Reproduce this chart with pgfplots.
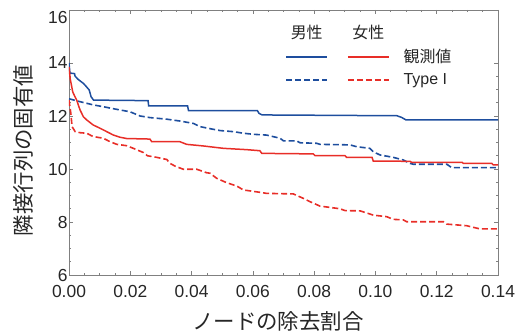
\documentclass[border=0pt]{standalone}
\usepackage{pgfplots}
\pgfplotsset{compat=1.18}
\usepackage{fontspec}
\setmainfont{Liberation Sans}
\newfontfamily\jp{Noto Sans CJK JP}
\definecolor{mblue}{RGB}{30,78,158}
\definecolor{fred}{RGB}{232,46,40}
\definecolor{axgray}{RGB}{128,128,128}
\begin{document}
\begin{tikzpicture}
\begin{axis}[
  at={(0,0)}, anchor=south west,
  scale only axis, width=429bp, height=265bp,
  xmin=0, xmax=0.14, ymin=6, ymax=16,
  xtick={0,0.02,0.04,0.06,0.08,0.1,0.12,0.14},
  ytick={6,8,10,12,14},
  extra y ticks={16},
  extra y tick style={yticklabel style={yshift=-8bp}},
  minor x tick num=3, minor y tick num=3,
  major tick length=4bp, minor tick length=2.5bp,
  every tick/.style={axgray, line width=0.6bp},
  axis line style={axgray, line width=0.8bp},
  /pgf/number format/assume math mode=true,
  xticklabel style={/pgf/number format/.cd, fixed, fixed zerofill, precision=2, /tikz/.cd, yshift=-7bp},
  yticklabel style={xshift=2bp},
  tick label style={font=\fontsize{17.5}{20}\selectfont, text=black!85},
  xlabel={\jp ノードの除去割合},
  ylabel={\jp 隣接行列の固有値},
  xlabel style={at={(axis description cs:0.487,-0.177)}, anchor=center, font=\fontsize{21.5}{24}\selectfont, text=black!85},
  ylabel style={at={(axis description cs:-0.107,0.47)}, anchor=center, font=\fontsize{21.5}{24}\selectfont, text=black!85},
  legend columns=3,
  legend style={at={(axis description cs:0.497,0.951)}, anchor=north west, draw=none, fill=none,
    font=\fontsize{16}{19}\selectfont, text=black!85, column sep=0pt, row sep=9.5bp, nodes={inner sep=0pt},
    /tikz/every even column/.append style={column sep=18bp}},
  legend cell align=left,
]
% Male observed
\addplot[mblue, line width=1.5bp, forget plot] coordinates {
(0,14.0) (0.0003,13.62) (0.0018,13.6) (0.002,13.5) (0.003,13.38) (0.0047,13.23) (0.0055,13.13)
(0.0066,12.98) (0.0072,12.73) (0.008,12.6) (0.0258,12.58) (0.026,12.38) (0.0387,12.38) (0.039,12.20)
(0.0615,12.20) (0.062,12.10) (0.063,12.04) (0.107,12.01) (0.1085,11.95) (0.110,11.85) (0.14,11.85)
};
% Male Type I
\addplot[mblue, line width=1.6bp, dash pattern=on 6bp off 3bp, forget plot] coordinates {
(0,12.65) (0.0036,12.54) (0.0079,12.42) (0.0112,12.35) (0.0156,12.25) (0.0199,12.16) (0.0232,12.00)
(0.0264,11.94) (0.0319,11.88) (0.0362,11.81) (0.0406,11.72) (0.0427,11.60) (0.047,11.50) (0.0493,11.45)
(0.0536,11.41) (0.0569,11.35) (0.0601,11.31) (0.0645,11.28) (0.0689,11.16) (0.070,11.06) (0.0743,11.06)
(0.0754,10.99) (0.0808,10.97) (0.0819,10.93) (0.0917,10.91) (0.0939,10.84) (0.0982,10.78) (0.0993,10.65)
(0.1015,10.53) (0.1058,10.44) (0.1091,10.34) (0.1113,10.21) (0.1124,10.18) (0.1233,10.18) (0.1249,10.05)
(0.14,10.05)
};
% Female observed
\addplot[fred, line width=1.5bp, forget plot] coordinates {
(0,13.85) (0.0004,13.4) (0.0012,12.92) (0.0014,12.86) (0.0025,12.60) (0.0036,12.23) (0.0047,11.97)
(0.0058,11.85) (0.0079,11.66) (0.0101,11.54) (0.0123,11.41) (0.0145,11.28) (0.0166,11.20) (0.0188,11.15)
(0.0264,11.13) (0.027,11.03) (0.0362,11.03) (0.0384,10.93) (0.0438,10.87) (0.0504,10.78) (0.058,10.73)
(0.0623,10.69) (0.0629,10.59) (0.0797,10.57) (0.0803,10.50) (0.0901,10.50) (0.0906,10.44) (0.0989,10.44)
(0.0993,10.30) (0.1113,10.29) (0.1118,10.25) (0.1283,10.25) (0.1287,10.21) (0.138,10.21) (0.1384,10.16)
(0.14,10.16)
};
% Female Type I
\addplot[fred, line width=1.6bp, dash pattern=on 6bp off 3bp, forget plot] coordinates {
(0,12.6) (0.0006,12.10) (0.001,11.6) (0.002,11.41) (0.0036,11.37) (0.0058,11.35) (0.0074,11.25)
(0.0091,11.20) (0.0112,11.16) (0.0134,11.03) (0.0156,10.93) (0.0188,10.88) (0.021,10.78) (0.0243,10.62)
(0.0256,10.50) (0.0286,10.44) (0.0319,10.36) (0.033,10.21) (0.0346,10.11) (0.0373,9.99) (0.0417,9.99)
(0.0449,9.86) (0.046,9.84) (0.0482,9.65) (0.0515,9.48) (0.0547,9.36) (0.0569,9.21) (0.0623,9.12)
(0.0645,9.08) (0.0732,9.06) (0.0765,8.89) (0.0786,8.77) (0.0819,8.60) (0.0852,8.55) (0.0884,8.50)
(0.0901,8.43) (0.095,8.42) (0.0993,8.26) (0.1037,8.20) (0.1058,8.10) (0.1091,8.08) (0.1102,8.01)
(0.1222,8.01) (0.1233,7.92) (0.1298,7.86) (0.1319,7.80) (0.1341,7.74) (0.14,7.74)
};
% Legend
\addlegendimage{legend image code/.code={\node[inner sep=0pt, anchor=center, font=\jp\fontsize{16}{19}\selectfont] at (20.5bp,2bp) {男性};}}
\addlegendentry{}
\addlegendimage{legend image code/.code={\node[inner sep=0pt, anchor=center, font=\jp\fontsize{16}{19}\selectfont] at (20.5bp,2bp) {女性};}}
\addlegendentry{}
\addlegendimage{empty legend}
\addlegendentry{}
\addlegendimage{legend image code/.code={\draw[mblue, line width=1.5bp] (0bp,0bp) -- (41bp,0bp);}}
\addlegendentry{}
\addlegendimage{legend image code/.code={\draw[fred, line width=1.5bp] (0bp,0bp) -- (41bp,0bp);}}
\addlegendentry{}
\addlegendimage{empty legend}
\addlegendentry{\hspace*{-5bp}\jp 観測値}
\addlegendimage{legend image code/.code={\draw[mblue, line width=1.6bp, dash pattern=on 6bp off 3bp] (0bp,0bp) -- (41bp,0bp);}}
\addlegendentry{}
\addlegendimage{legend image code/.code={\draw[fred, line width=1.6bp, dash pattern=on 6bp off 3bp] (0bp,0bp) -- (41bp,0bp);}}
\addlegendentry{}
\addlegendimage{empty legend}
\addlegendentry{\hspace*{-5bp}Type I}
\end{axis}
\pgfresetboundingbox
\path[use as bounding box] (-69bp,-59bp) rectangle (449bp,275bp);
\end{tikzpicture}
\end{document}
